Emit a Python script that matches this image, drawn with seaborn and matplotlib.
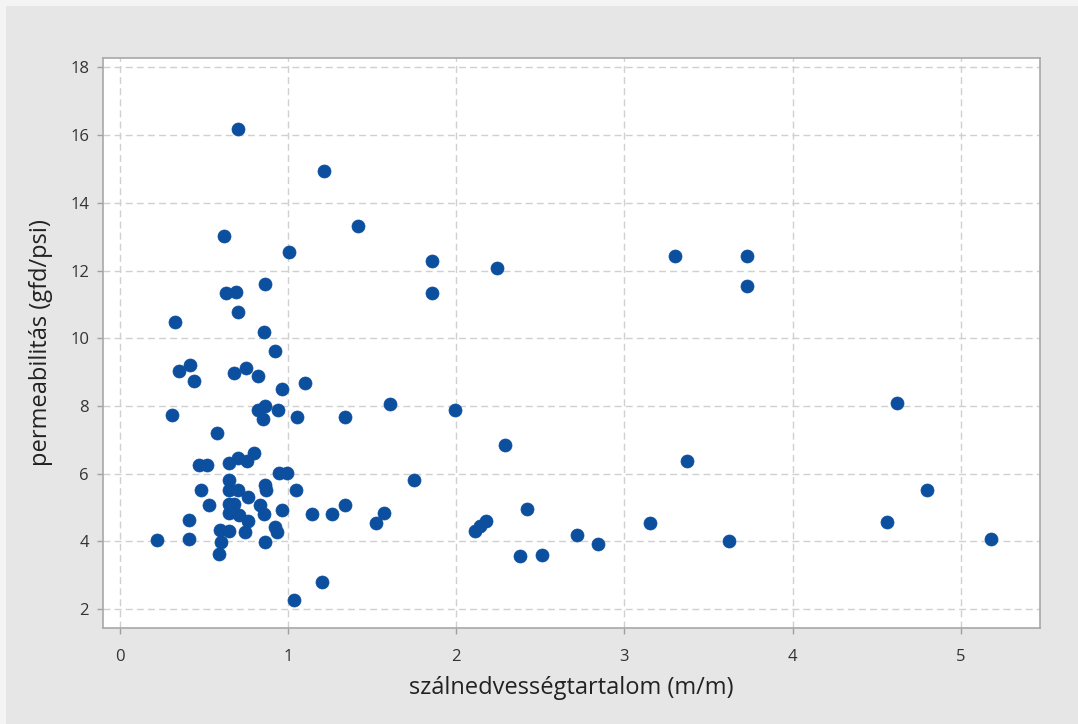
import matplotlib
matplotlib.use("Agg")
import matplotlib.pyplot as plt
from matplotlib.patches import Rectangle
import seaborn as sns
import pandas as pd

# Fibre moisture content (m/m) and membrane permeability (gfd/psi)
moisture = [
    0.22, 0.31, 0.33, 0.35, 0.42, 0.44, 0.41, 0.41, 0.47, 0.52,
    0.48, 0.53, 0.58, 0.59, 0.60, 0.595, 0.65, 0.62, 0.63, 0.69,
    0.70, 0.70, 0.68, 0.75, 0.82, 0.65, 0.70, 0.755, 0.80, 0.65,
    0.65, 0.70, 0.65, 0.68, 0.65, 0.71, 0.765, 0.765, 0.745, 0.835,
    0.855, 0.865, 0.87, 0.865, 0.92, 0.935, 0.945, 0.995, 0.965, 1.048,
    0.855, 0.92, 0.965, 1.10, 0.82, 0.865, 0.85, 0.94, 1.056, 0.865,
    1.008, 1.215, 1.415, 1.143, 1.26, 1.34, 1.52, 1.57, 1.20, 1.034,
    1.336, 1.606, 1.99, 1.75, 1.853, 1.853, 2.245, 2.29, 2.11, 2.14,
    2.175, 2.42, 2.38, 2.51, 2.72, 2.84, 3.15, 3.30, 3.37, 3.62,
    3.73, 3.73, 4.62, 4.80, 4.56, 5.18,
]
permeability = [
    4.03, 7.72, 10.47, 9.03, 9.20, 8.73, 4.64, 4.08, 6.27, 6.27,
    5.53, 5.08, 7.21, 3.64, 3.98, 4.33, 4.30, 13.01, 11.34, 11.38,
    10.79, 16.17, 8.96, 9.13, 8.89, 6.30, 6.45, 6.38, 6.60, 5.80,
    5.53, 5.53, 5.11, 5.11, 4.84, 4.77, 5.31, 4.61, 4.27, 5.07,
    4.82, 5.67, 5.52, 3.97, 4.42, 4.27, 6.03, 6.03, 4.92, 5.53,
    10.18, 9.62, 8.50, 8.68, 7.88, 7.99, 7.62, 7.89, 7.67, 11.61,
    12.56, 14.95, 13.33, 4.80, 4.80, 5.08, 4.54, 4.83, 2.80, 2.26,
    7.67, 8.05, 7.88, 5.82, 12.29, 11.33, 12.09, 6.84, 4.31, 4.44,
    4.59, 4.97, 3.57, 3.61, 4.18, 3.92, 4.53, 12.44, 6.38, 4.02,
    12.44, 11.55, 8.10, 5.53, 4.58, 4.08,
]

x_ticks = [0, 1, 2, 3, 4, 5]
y_ticks = [2, 4, 6, 8, 10, 12, 14, 16, 18]
x_label = "szálnedvességtartalom (m/m)"
y_label = "permeabilitás (gfd/psi)"

df = pd.DataFrame({"x": moisture, "y": permeability})

sns.set_theme(style="white")
plt.rcParams["font.family"] = ["Open Sans", "DejaVu Sans"]

W, H = 1078, 724
fig = plt.figure(figsize=(W / 100, H / 100), dpi=100, facecolor="#f4f4f4")
# grey chart panel inside a thin light frame
fig.patches.append(Rectangle((6 / W, 0), 1 - 6 / W, 1 - 6 / H,
                             transform=fig.transFigure, facecolor="#e6e6e6",
                             edgecolor="none", zorder=-10))

ax = fig.add_axes([0.0955, 0.1326, 0.8693, 0.7873])
ax.set_zorder(5)
ax.set_facecolor("white")

sns.scatterplot(data=df, x="x", y="y", ax=ax, s=88, color="#0b4f9e",
                edgecolor="#0b4f9e", linewidth=0.5, zorder=3)

ax.set_xlim(-0.10, 5.47)
ax.set_ylim(1.44, 18.28)
ax.set_xticks(x_ticks)
ax.set_yticks(y_ticks)

ax.grid(True, which="major", axis="both", color="#d0d0d0",
        linestyle=(0, (5, 3)), linewidth=1.0, zorder=0)
ax.set_axisbelow(True)

for side in ["left", "right", "top", "bottom"]:
    ax.spines[side].set_visible(True)
    ax.spines[side].set_color("#a8a8a8")
    ax.spines[side].set_linewidth(1.2)

ax.tick_params(axis="both", which="major", direction="out", length=4,
               width=1, color="#a0a0a0", labelsize=12, labelcolor="#333333",
               bottom=True, left=True)
ax.tick_params(axis="x", pad=11)
ax.tick_params(axis="y", pad=6)

ax.set_xlabel(x_label, fontsize=17, color="#222222", labelpad=8)
ax.set_ylabel(y_label, fontsize=17, color="#222222", labelpad=12)

fig.savefig("out.png", dpi=100, facecolor=fig.get_facecolor())
